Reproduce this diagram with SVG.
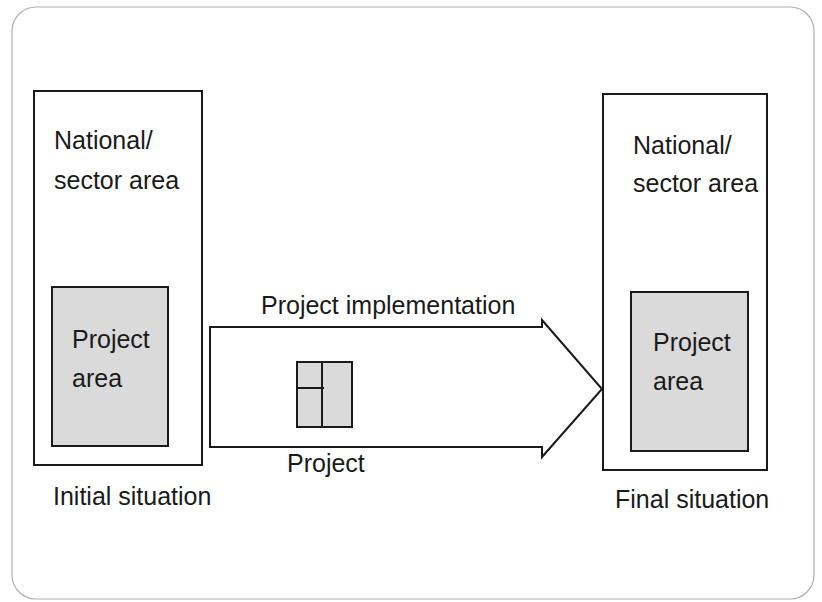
<svg xmlns="http://www.w3.org/2000/svg" width="822" height="602" viewBox="0 0 822 602">
<style>
.frame{fill:none;stroke:#b0b0b0;stroke-width:1.2}
.box{fill:#fff;stroke:#1a1a1a;stroke-width:2}
.shade{fill:#dadada;stroke:#1a1a1a;stroke-width:2}
.arrow{fill:#fff;stroke:#1a1a1a;stroke-width:2;stroke-linejoin:miter}
.line{stroke:#1a1a1a;stroke-width:2}
text{font-family:"Liberation Sans",Arial,sans-serif;font-size:25px;fill:#1a1a1a}
</style>
<rect class="frame" x="12" y="7" width="802" height="592" rx="24" ry="24"/>
<g id="initial">
<rect class="box" x="34" y="91" width="168" height="374"/>
<text x="54" y="149">National/</text>
<text x="54" y="189">sector area</text>
<g id="initial-project-area">
<rect class="shade" x="52" y="287" width="116" height="159"/>
<text x="72" y="348">Project</text>
<text x="72" y="387">area</text>
</g>
<text x="53" y="505">Initial situation</text>
</g>
<g id="connectors">
<polygon class="arrow" points="210,327 542,327 542,320 602,389 542,457 542,447 210,447"/>
<text x="261" y="314">Project implementation</text>
<text x="287" y="472">Project</text>
</g>
<g id="project-icon">
<rect class="shade" x="297" y="362" width="55" height="65"/>
<line class="line" x1="322" y1="362" x2="322" y2="427"/>
<line class="line" x1="297" y1="388" x2="324" y2="388"/>
</g>
<g id="final">
<rect class="box" x="603" y="94" width="164" height="376"/>
<text x="633" y="154">National/</text>
<text x="633" y="192">sector area</text>
<g id="final-project-area">
<rect class="shade" x="631" y="292" width="117" height="159"/>
<text x="653" y="351">Project</text>
<text x="653" y="390">area</text>
</g>
<text x="615" y="508">Final situation</text>
</g>
</svg>
